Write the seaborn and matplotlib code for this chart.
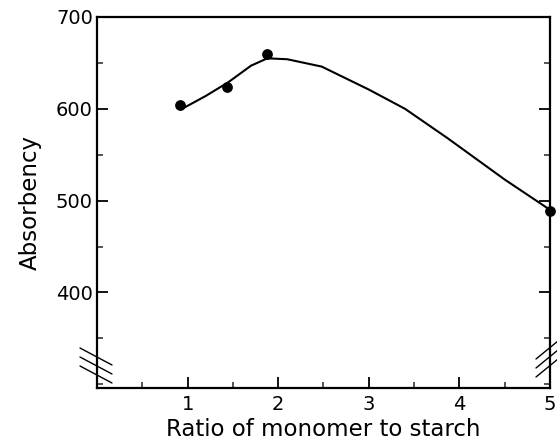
import matplotlib
matplotlib.use("Agg")
import matplotlib.pyplot as plt
import seaborn as sns
import pandas as pd
from matplotlib.lines import Line2D
from matplotlib.ticker import MultipleLocator

# Measured data points
ratio_pts = [0.92, 1.44, 1.88, 5.0]
absorb_pts = [604, 624, 660, 489]

# Smooth fitted curve
ratio_curve = [0.92, 1.2, 1.45, 1.7, 1.88, 2.1, 2.48, 3.0, 3.4, 3.87, 4.5, 5.0]
absorb_curve = [599, 614, 629, 647, 655, 654, 646, 621, 600, 568, 523, 490]

x_ticks = [1, 2, 3, 4, 5]
y_ticks = [400, 500, 600, 700]

sns.set_style("ticks")
plt.rcParams['font.family'] = ['DejaVu Sans']

L, R, T, B = 97, 550, 17, 388
W, H = 557, 440
fig = plt.figure(figsize=(5.57, 4.40), dpi=100)
ax = fig.add_axes([L / W, 1 - B / H, (R - L) / W, (B - T) / H])

df_c = pd.DataFrame({"x": ratio_curve, "y": absorb_curve})
df_p = pd.DataFrame({"x": ratio_pts, "y": absorb_pts})
sns.lineplot(data=df_c, x="x", y="y", sort=False, color="black", linewidth=1.5, ax=ax)
sns.scatterplot(data=df_p, x="x", y="y", color="black", s=60, edgecolor="black",
                linewidth=0, ax=ax, clip_on=False, zorder=5)

ax.set_xlim(0, 5)
ax.set_ylim(296, 700)
ax.set_xticks(x_ticks)
ax.set_xticklabels([str(v) for v in x_ticks])
ax.set_yticks(y_ticks)
ax.set_yticklabels([str(v) for v in y_ticks])
ax.xaxis.set_minor_locator(MultipleLocator(0.5))
ax.yaxis.set_minor_locator(MultipleLocator(50))

for s in ax.spines.values():
    s.set_linewidth(1.6)
    s.set_color("black")

ax.tick_params(axis="both", which="major", direction="in", length=8, width=1.3,
               labelsize=14, colors="black", right=True, top=False)
ax.tick_params(axis="both", which="minor", direction="in", length=4, width=1.1,
               right=True, top=False)
ax.tick_params(axis="x", pad=5)
ax.tick_params(axis="y", pad=3)

ax.set_xlabel("Ratio of monomer to starch", fontsize=16.5, labelpad=3, color="black")
ax.set_ylabel("Absorbency", fontsize=16.5, labelpad=10, color="black")

# Axis break marks (in axes-fraction coords)
def frac(px, py):
    return ((px - L) / (R - L), (B - py) / (B - T))

for dy in (0, 9, 18):
    x0, y0 = frac(80, 348 + dy)
    x1, y1 = frac(112, 365 + dy)
    ax.add_line(Line2D([x0, x1], [y0, y1], transform=ax.transAxes, color="black",
                       lw=1.0, clip_on=False))
for dy in (0, 9, 18):
    x0, y0 = frac(536, 377 - dy)
    x1, y1 = frac(558, 359 - dy)
    ax.add_line(Line2D([x0, x1], [y0, y1], transform=ax.transAxes, color="black",
                       lw=1.0, clip_on=False))

fig.savefig("out.png", dpi=100, facecolor="white")
